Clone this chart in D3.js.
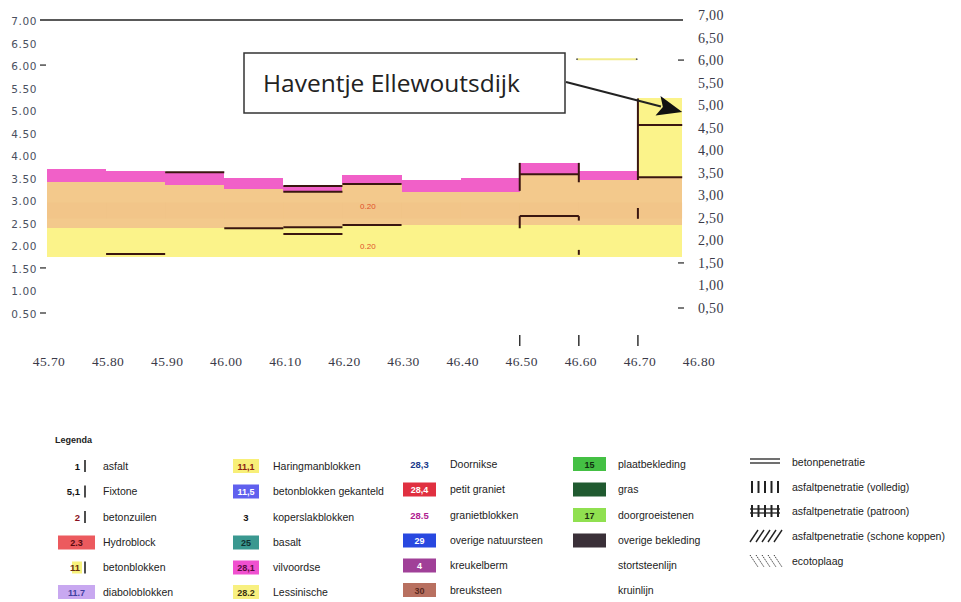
<!DOCTYPE html>
<html><head><meta charset="utf-8">
<script src="https://cdn.jsdelivr.net/npm/d3@7"></script>
<style>body{margin:0;background:#fff;} svg{display:block;}</style>
</head><body>
<svg id="c" width="961" height="602"></svg>
<script>
// ---- data ----
const segStart   = [45.70,45.80,45.90,46.00,46.10,46.20,46.30,46.40,46.50,46.60,46.70];
const segEnd     = [45.80,45.90,46.00,46.10,46.20,46.30,46.40,46.50,46.60,46.70,46.775];
const yellowLow  = [1.74,1.74,1.74,1.74,1.74,1.74,1.74,1.74,1.74,1.74,1.74];
const yellowHigh = [2.38,2.38,2.38,2.38,2.40,2.45,2.45,2.45,2.45,2.45,2.45];
const tanHigh    = [3.41,3.41,3.34,3.24,3.19,3.36,3.18,3.19,3.58,3.45,3.51];
const pinkHigh   = [3.69,3.65,3.62,3.49,3.32,3.56,3.45,3.49,3.83,3.66,3.51];
const topYellowHigh = [null,null,null,null,null,null,null,null,null,null,5.26];
// horizontal dark lines: [from km, to km, level]
const hLines = [[45.80,45.90,1.81],[45.90,46.00,3.62],[46.00,46.10,2.38],
  [46.10,46.20,3.32],[46.10,46.20,3.19],[46.10,46.20,2.40],[46.10,46.20,2.25],
  [46.20,46.30,3.36],[46.20,46.30,2.45],[46.50,46.60,3.58],[46.50,46.60,2.65],
  [46.70,46.775,4.67],[46.70,46.775,3.51]];
// vertical dark lines: [km, from level, to level]
const vLines = [[46.50,3.83,3.21],[46.50,2.65,2.38],[46.60,3.83,3.40],[46.60,2.65,2.55],
  [46.60,1.90,1.79],[46.70,5.26,3.45],[46.70,2.83,2.59]];
const thinYellow = [[46.597,46.698,6.13]];
const valueLabels = [[46.243,2.87,"0.20"],[46.243,1.99,"0.20"]];
const xTicks = [45.70,45.80,45.90,46.00,46.10,46.20,46.30,46.40,46.50,46.60,46.70,46.80];
const xTickLabels = ["45.70","45.80","45.90","46.00","46.10","46.20","46.30","46.40","46.50","46.60","46.70","46.80"];
const xMarks = [46.50,46.60,46.70];
const yTicks = [7.0,6.5,6.0,5.5,5.0,4.5,4.0,3.5,3.0,2.5,2.0,1.5,1.0,0.5];
const yLeftLabels = ["7.00","6.50","6.00","5.50","5.00","4.50","4.00","3.50","3.00","2.50","2.00","1.50","1.00","0.50"];
const yRightLabels = ["7,00","6,50","6,00","5,50","5,00","4,50","4,00","3,50","3,00","2,50","2,00","1,50","1,00","0,50"];
const yDashTicks = [6.0,1.5,0.5];
const annotationText = "Haventje Ellewoutsdijk";

// legend: [column, row, code, label, swatch colour, code colour, kind]
const legendItems = [
  [0,0,"1","asfalt",null,"#111","bar"],
  [0,1,"5,1","Fixtone",null,"#111","bar"],
  [0,2,"2","betonzuilen",null,"#8a1020","bar"],
  [0,3,"2.3","Hydroblock","#ec5a5e","#5a0a10","box"],
  [0,4,"11","betonblokken","#f7f27c","#6a3010","barbox"],
  [0,5,"11.7","diaboloblokken","#c8a8f0","#4040a0","box"],
  [1,0,"11,1","Haringmanblokken","#f8ef78","#8a2010","box"],
  [1,1,"11,5","betonblokken gekanteld","#6060ee","#ffffff","box"],
  [1,2,"3","koperslakblokken",null,"#111","text"],
  [1,3,"25","basalt","#3a9890","#103030","box"],
  [1,4,"28,1","vilvoordse","#f050d0","#5a0a40","box"],
  [1,5,"28.2","Lessinische","#f8f080","#3a3010","box"],
  [2,0,"28,3","Doornikse",null,"#1a3a8a","text"],
  [2,1,"28,4","petit graniet","#e03040","#ffffff","box"],
  [2,2,"28.5","granietblokken",null,"#b02090","text"],
  [2,3,"29","overige natuursteen","#2848e0","#ffffff","box"],
  [2,4,"4","kreukelberm","#a04098","#ffffff","box"],
  [2,5,"30","breuksteen","#b87060","#5a2a20","box"],
  [3,0,"15","plaatbekleding","#44c044","#103010","box"],
  [3,1,"","gras","#205a30","#fff","box"],
  [3,2,"17","doorgroeistenen","#90e050","#203010","box"],
  [3,3,"","overige bekleding","#3a3038","#fff","box"],
  [3,4,"","stortsteenlijn",null,"#111","none"],
  [3,5,"","kruinlijn",null,"#111","none"]
];
const patternItems = ["betonpenetratie","asfaltpenetratie (volledig)","asfaltpenetratie (patroon)",
  "asfaltpenetratie (schone koppen)","ecotoplaag"];

// ---- drawing ----
const svg = d3.select("#c");
const x = d3.scaleLinear().domain([45.70,46.80]).range([47,697]);
const y = d3.scaleLinear().domain([0.5,7]).range([313,20]);
const yR = d3.scaleLinear().domain([0.5,7]).range([308,15]);

const COL = {yellow:"#fbf38a", tan:"#f3c98c", pink:"#f160c8", dark:"#3a1610"};
const idx = d3.range(segStart.length);

function bands(lowArr, highArr, color){
  svg.append("g").selectAll("rect").data(idx.filter(i=>lowArr[i]!=null && highArr[i]!=null && highArr[i]>lowArr[i]))
    .join("rect")
    .attr("x", i=>x(segStart[i])).attr("width", i=>x(segEnd[i])-x(segStart[i]))
    .attr("y", i=>y(highArr[i])).attr("height", i=>y(lowArr[i])-y(highArr[i]))
    .attr("fill", color).attr("shape-rendering","crispEdges");
}
bands(yellowLow, yellowHigh, COL.yellow);
bands(yellowHigh, tanHigh, COL.tan);
bands(tanHigh, pinkHigh, COL.pink);
bands(tanHigh, topYellowHigh, COL.yellow);

// subtle stripe in tan band
svg.append("g").selectAll("rect").data(idx).join("rect")
  .attr("x", i=>x(segStart[i])).attr("width", i=>x(segEnd[i])-x(segStart[i]))
  .attr("y", y(2.95)).attr("height", y(2.6)-y(2.95))
  .attr("fill","#eebd80").attr("opacity",0.25);

// dark lines
svg.append("g").selectAll("line").data(hLines).join("line")
  .attr("x1", d=>x(d[0])).attr("x2", d=>x(d[1]))
  .attr("y1", d=>y(d[2])).attr("y2", d=>y(d[2]))
  .attr("stroke", COL.dark).attr("stroke-width", 2);
svg.append("g").selectAll("line").data(vLines).join("line")
  .attr("x1", d=>x(d[0])).attr("x2", d=>x(d[0]))
  .attr("y1", d=>y(d[1])).attr("y2", d=>y(d[2]))
  .attr("stroke", COL.dark).attr("stroke-width", 2);
svg.append("g").selectAll("line").data(thinYellow).join("line")
  .attr("x1", d=>x(d[0])).attr("x2", d=>x(d[1]))
  .attr("y1", d=>y(d[2])).attr("y2", d=>y(d[2]))
  .attr("stroke", "#f2ec8c").attr("stroke-width", 2);
thinYellow.forEach(d=>{
  [d[0],d[1]].forEach(k=>svg.append("circle").attr("cx",x(k)).attr("cy",y(d[2])).attr("r",0.9).attr("fill","#555"));
});

svg.append("g").selectAll("text").data(valueLabels).join("text")
  .attr("x", d=>x(d[0])).attr("y", d=>y(d[1])+3)
  .attr("text-anchor","middle").attr("font-family","Liberation Sans, Arial, sans-serif")
  .attr("font-size",8).attr("fill","#e0502a").text(d=>d[2]);

// top line at 7.00
svg.append("line").attr("x1",40).attr("x2",683).attr("y1",y(7)).attr("y2",y(7))
  .attr("stroke","#222").attr("stroke-width",1.6);

// left axis labels
svg.append("g").selectAll("text").data(yTicks).join("text")
  .attr("x",37).attr("y",d=>y(d)+5).attr("text-anchor","end")
  .attr("font-family","DejaVu Sans, sans-serif").attr("font-size",10.5)
  .attr("letter-spacing",0.6).attr("fill","#4a5060")
  .text((d,i)=>yLeftLabels[i]);
svg.append("g").selectAll("line").data(yDashTicks).join("line")
  .attr("x1",40).attr("x2",46).attr("y1",d=>y(d)).attr("y2",d=>y(d))
  .attr("stroke","#333").attr("stroke-width",1.3);

// right axis labels
svg.append("g").selectAll("text").data(yTicks).join("text")
  .attr("x",698).attr("y",d=>yR(d)+5)
  .attr("font-family","Liberation Serif, Times New Roman, serif").attr("font-size",14)
  .attr("letter-spacing",0.3).attr("fill","#3a3a48")
  .text((d,i)=>yRightLabels[i]);
svg.append("g").selectAll("line").data(yDashTicks).join("line")
  .attr("x1",678).attr("x2",684).attr("y1",d=>yR(d)).attr("y2",d=>yR(d))
  .attr("stroke","#333").attr("stroke-width",1.3);

// x axis labels
svg.append("g").selectAll("text").data(xTicks).join("text")
  .attr("x",d=>x(d)+2).attr("y",366).attr("text-anchor","middle")
  .attr("font-family","Liberation Serif, Times New Roman, serif").attr("font-size",13.5)
  .attr("letter-spacing",0.4).attr("fill","#3a3a48")
  .text((d,i)=>xTickLabels[i]);
svg.append("g").selectAll("line").data(xMarks).join("line")
  .attr("x1",d=>x(d)).attr("x2",d=>x(d)).attr("y1",335).attr("y2",346)
  .attr("stroke","#333").attr("stroke-width",1.5);

// annotation
svg.append("rect").attr("x",244).attr("y",53).attr("width",321).attr("height",60)
  .attr("fill","#fff").attr("stroke","#333").attr("stroke-width",1.5);
svg.append("text").attr("x",263).attr("y",92)
  .attr("font-family","Open Sans, Noto Sans, sans-serif").attr("font-size",24.5)
  .attr("fill","#222").text(annotationText);
const tipX = x(46.775), tipY = y(4.96);
const sX = 566, sY = 82;
const ang = Math.atan2(tipY - sY, tipX - sX);
const hl = 25, hw = 10;
const bx = tipX - hl*Math.cos(ang), by = tipY - hl*Math.sin(ang);
svg.append("line").attr("x1",sX).attr("y1",sY).attr("x2",bx+3*Math.cos(ang)).attr("y2",by+3*Math.sin(ang))
  .attr("stroke","#222").attr("stroke-width",2);
svg.append("path").attr("d", d3.line()([
  [tipX,tipY],
  [bx - hw*Math.sin(ang), by + hw*Math.cos(ang)],
  [bx + 5*Math.cos(ang), by + 5*Math.sin(ang)],
  [bx + hw*Math.sin(ang), by - hw*Math.cos(ang)]
]) + "Z").attr("fill","#111");

// legend
const LF = "Liberation Sans, Arial, sans-serif";
svg.append("text").attr("x",55).attr("y",443).attr("font-family",LF)
  .attr("font-size",9).attr("font-weight","bold").attr("fill","#222").text("Legenda");
const rowY = [466,491.5,517,542.5,567.5,592];
const colDef = [
  {sx:58, sw:37, tx:103},
  {sx:233, sw:26, tx:273},
  {sx:403, sw:33, tx:450},
  {sx:573, sw:33, tx:618}
];
const lg = svg.append("g");
legendItems.forEach(it=>{
  const [c,r,code,label,sw,cc,kind] = it;
  const cd = colDef[c], yy = rowY[r] - (c>=2?2:0);
  if(kind==="box"){
    lg.append("rect").attr("x",cd.sx).attr("y",yy-7).attr("width",cd.sw).attr("height",14)
      .attr("fill",sw);
    if(code) lg.append("text").attr("x",cd.sx+cd.sw/2).attr("y",yy+3.5).attr("text-anchor","middle")
      .attr("font-family",LF).attr("font-size",9).attr("font-weight","bold").attr("fill",cc).text(code);
  } else if(kind==="bar" || kind==="barbox"){
    if(kind==="barbox") lg.append("rect").attr("x",72).attr("y",yy-6).attr("width",10).attr("height",12).attr("fill",sw);
    lg.append("text").attr("x",80).attr("y",yy+3.5).attr("text-anchor","end")
      .attr("font-family",LF).attr("font-size",9.5).attr("font-weight","bold").attr("fill",cc).text(code);
    lg.append("line").attr("x1",85).attr("x2",85).attr("y1",yy-6).attr("y2",yy+6)
      .attr("stroke","#222").attr("stroke-width",1.6);
  } else if(kind==="text"){
    lg.append("text").attr("x",cd.sx+cd.sw/2).attr("y",yy+3.5).attr("text-anchor","middle")
      .attr("font-family",LF).attr("font-size",9.5).attr("font-weight","bold").attr("fill",cc).text(code);
  }
  lg.append("text").attr("x",cd.tx).attr("y",yy+3.5).attr("font-family",LF)
    .attr("font-size",10.5).attr("fill","#222").text(label);
});
// pattern legend
const pY = [462,487,511,536,561];
const pg = svg.append("g").attr("stroke","#222");
patternItems.forEach((lab,i)=>{
  const yy = pY[i], x0 = 750, x1 = 780;
  if(i===0){
    [yy-3,yy+1].forEach(v=>pg.append("line").attr("x1",x0).attr("x2",x1).attr("y1",v).attr("y2",v).attr("stroke-width",1.3));
  } else if(i===1 || i===2){
    d3.range(5).forEach(k=>pg.append("line").attr("x1",x0+2+k*6.5).attr("x2",x0+2+k*6.5)
      .attr("y1",yy-6).attr("y2",yy+6).attr("stroke-width",2));
    if(i===2) [yy-2,yy+2].forEach(v=>pg.append("line").attr("x1",x0).attr("x2",x1).attr("y1",v).attr("y2",v).attr("stroke-width",1.3));
  } else if(i===3){
    d3.range(5).forEach(k=>pg.append("line").attr("x1",x0+k*6).attr("x2",x0+k*6+8)
      .attr("y1",yy+6).attr("y2",yy-6).attr("stroke-width",1.4));
  } else {
    d3.range(5).forEach(k=>pg.append("line").attr("x1",x0+k*6).attr("x2",x0+k*6+8)
      .attr("y1",yy-6).attr("y2",yy+6).attr("stroke-width",0.9).attr("stroke-dasharray","1.5,1"));
  }
  svg.append("text").attr("x",792).attr("y",yy+3.5).attr("font-family",LF)
    .attr("font-size",10.5).attr("fill","#222").text(lab);
});
</script>
</body></html>
